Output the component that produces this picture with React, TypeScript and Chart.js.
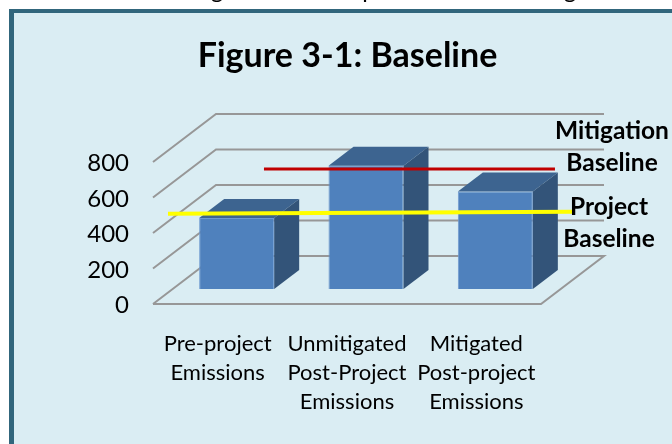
import React, { useEffect, useRef } from "react";
import { Chart, registerables } from "chart.js";

Chart.register(...registerables);

const categories = [
  ["Pre-project", "Emissions"],
  ["Unmitigated", "Post-Project", "Emissions"],
  ["Mitigated", "Post-project", "Emissions"],
];
const emissions = [400, 695, 550];
const yTicks = [0, 200, 400, 600, 800];
const mitigationBaseline = [
  { x: 0.858, y: 760 },
  { x: 3.108, y: 760 },
];
const projectBaseline = [
  { x: 0.116, y: 509 },
  { x: 3.24, y: 520 },
];
const titleText = "Figure 3-1: Baseline";
const mitigationLabel = ["Mitigation", "Baseline"];
const projectLabel = ["Project", "Baseline"];
const clippedHeaderGlyphs = ["g", "p", "g"];

const FONT = "Lato, Carlito, sans-serif";

const scene = {
  id: "scene",
  beforeDatasetsDraw(chart: any) {
    const { ctx, scales } = chart;
    const y = scales.y;
    const x0 = chart.chartArea.left;
    const x1 = chart.chartArea.right;
    const dx = 63;
    const dy = -48;
    ctx.save();
    ctx.strokeStyle = "#979797";
    ctx.lineWidth = 2;
    for (const v of yTicks) {
      const py = y.getPixelForValue(v);
      ctx.beginPath();
      ctx.moveTo(x0, py);
      ctx.lineTo(x0 + dx, py + dy);
      ctx.lineTo(x1 + dx, py + dy);
      if (v === 0) {
        ctx.lineTo(x1, py);
        ctx.lineTo(x0, py);
      }
      ctx.stroke();
    }
    ctx.restore();
  },
  beforeDatasetDraw(chart: any, args: any) {
    if (args.index === 0) {
      chart.ctx.save();
      chart.ctx.translate(19, -15);
    }
  },
  afterDatasetDraw(chart: any, args: any) {
    if (args.index !== 0) return;
    const { ctx } = chart;
    const dx = 25;
    const dy = -19;
    for (const bar of args.meta.data) {
      const { x, y, base, width } = bar.getProps(["x", "y", "base", "width"], true);
      const l = x - width / 2;
      const r = x + width / 2;
      ctx.fillStyle = "#3D6490";
      ctx.beginPath();
      ctx.moveTo(l, y);
      ctx.lineTo(l + dx, y + dy);
      ctx.lineTo(r + dx, y + dy);
      ctx.lineTo(r, y);
      ctx.closePath();
      ctx.fill();
      ctx.fillStyle = "#335479";
      ctx.beginPath();
      ctx.moveTo(r, y);
      ctx.lineTo(r + dx, y + dy);
      ctx.lineTo(r + dx, base + dy);
      ctx.lineTo(r, base);
      ctx.closePath();
      ctx.fill();
    }
    ctx.restore();
  },
  afterDraw(chart: any) {
    const { ctx } = chart;
    ctx.save();
    ctx.fillStyle = "#000";
    ctx.font = `bold 24.5px ${FONT}`;
    ctx.textAlign = "center";
    ctx.textBaseline = "middle";
    ctx.fillText(mitigationLabel[0], 612, 131);
    ctx.fillText(mitigationLabel[1], 612, 163);
    ctx.fillText(projectLabel[0], 609, 207);
    ctx.fillText(projectLabel[1], 609, 239);
    ctx.font = `24px ${FONT}`;
    ctx.textBaseline = "alphabetic";
    const xs = [217, 369, 570];
    clippedHeaderGlyphs.forEach((g, i) => ctx.fillText(g, xs[i], -2));
    ctx.restore();
  },
};

export default function App() {
  const ref = useRef<HTMLCanvasElement>(null);
  useEffect(() => {
    const chart = new Chart(ref.current!, {
      type: "bar",
      data: {
        labels: categories as any,
        datasets: [
          {
            type: "bar",
            data: emissions,
            backgroundColor: "#4F81BD",
            borderColor: "#6F9AD0",
            borderWidth: 1,
            grouped: false,
            categoryPercentage: 1,
            barPercentage: 0.58,
            clip: false,
            order: 2,
          } as any,
          {
            type: "line",
            data: mitigationBaseline,
            xAxisID: "xv",
            borderColor: "#C00000",
            borderWidth: 3,
            pointRadius: 0,
            clip: false,
            order: 1,
          } as any,
          {
            type: "line",
            data: projectBaseline,
            xAxisID: "xv",
            borderColor: "#FFFF00",
            borderWidth: 4,
            pointRadius: 0,
            clip: false,
            order: 0,
          } as any,
        ],
      },
      options: {
        responsive: false,
        animation: false,
        devicePixelRatio: 1,
        layout: { padding: { left: 23, right: 0, top: 0, bottom: 0 } },
        plugins: {
          legend: { display: false },
          tooltip: { enabled: false },
          title: {
            display: true,
            text: titleText,
            color: "#000",
            font: { family: FONT, size: 34, weight: "bold" },
            padding: { top: 35.5, bottom: 85.7 },
          },
        },
        scales: {
          x: {
            grid: { display: false },
            border: { display: false },
            afterFit(s: any) {
              s.height = 140;
            },
            ticks: {
              color: "#000",
              font: { family: FONT, size: 22, lineHeight: 1.32 },
              maxRotation: 0,
              autoSkip: false,
              padding: 17,
            },
          },
          xv: { type: "linear", display: false, min: 0, max: 3, offset: false },
          y: {
            min: 0,
            max: 800,
            grid: { display: false },
            border: { display: false },
            afterFit(s: any) {
              s.width = 130;
            },
            ticks: {
              stepSize: 200,
              color: "#000",
              font: { family: FONT, size: 24 },
              padding: 16,
              labelOffset: 1.5,
            },
          },
          yr: {
            position: "right",
            min: 0,
            max: 800,
            grid: { display: false },
            border: { display: false },
            ticks: { display: false },
            afterFit(s: any) {
              s.width = 131;
            },
          },
        },
      },
      plugins: [scene],
    } as any);
    return () => chart.destroy();
  }, []);
  return (
    <div style={{ position: "fixed", inset: 0, overflow: "hidden", background: "#fff" }}>
      <div
        style={{
          position: "absolute",
          left: 9,
          top: 9,
          width: 700,
          height: 500,
          boxSizing: "border-box",
          background: "#DAEDF3",
          borderTop: "4px solid #31667C",
          borderLeft: "5px solid #31667C",
        }}
      />
      <canvas ref={ref} width={672} height={444} style={{ position: "absolute", left: 0, top: 0 }} />
    </div>
  );
}
